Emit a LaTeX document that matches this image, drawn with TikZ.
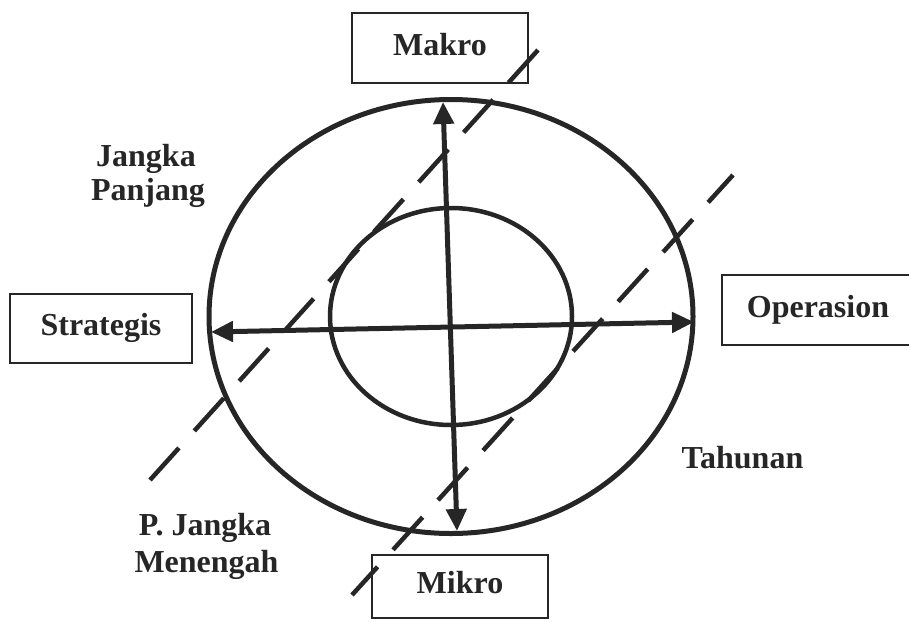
\documentclass[tikz,border=0pt]{standalone}
\usepackage{fontspec}
\setmainfont{Liberation Serif}
\usetikzlibrary{arrows.meta,shapes.geometric}
\definecolor{ink}{HTML}{262626}
\begin{document}
\begin{tikzpicture}[x=1pt,y=-1pt,
  lbl/.style={font=\fontsize{32}{36}\selectfont\bfseries, text=ink, inner sep=0pt, anchor=base},
  labelbox/.style={draw=ink, line width=2.2pt, inner sep=0pt, font=\fontsize{32}{36}\selectfont\bfseries, text=ink, text height=22pt, text depth=8pt},
  ring/.style={draw=ink, ellipse, inner sep=0pt, outer sep=0pt},
  axisarrow/.style={draw=ink, line width=5pt, {Triangle[length=22pt,width=20pt]}-{Triangle[length=22pt,width=20pt]}},
  dashline/.style={draw=ink, line width=4.5pt, dash pattern=on 44pt off 23pt}
]
\useasboundingbox (0,0) rectangle (909,621);
\fill[white] (0,0) rectangle (909,621);

% ellipses
\node[ring, line width=5pt, minimum width=484pt, minimum height=434pt] (outer) at (451,316.5) {};
\node[ring, line width=4.5pt, minimum width=242pt, minimum height=217pt] (inner) at (451,316.5) {};

% dashed lines
\coordinate (d1a) at (538,50);
\coordinate (d1b) at (150,480);
\coordinate (d2a) at (733,175);
\coordinate (d2b) at (352,595);
\draw[dashline] (d1a) -- (d1b);
\draw[dashline, dash phase=7pt] (d2a) -- (d2b);

% arrows
\coordinate (vtop) at (443,102);
\coordinate (vbot) at (457,531);
\coordinate (hleft) at (211,332);
\coordinate (hright) at (694,322);
\draw[axisarrow] (vtop) -- (vbot);
\draw[axisarrow] (hleft) -- (hright);

% boxes
\node[labelbox, minimum width=176pt, minimum height=70pt] (makro) at (440,48) {Makro};
\node[labelbox, minimum width=182pt, minimum height=69pt] (strategis) at (101,328.5) {Strategis};
\node[labelbox, minimum width=192pt, minimum height=70pt] (operasion) at (818,310) {Operasion};
\node[labelbox, minimum width=176pt, minimum height=63pt] (mikro) at (460,586.5) {Mikro};

% free labels
\node[lbl] (jp1) at (146,166) {Jangka};
\node[lbl] (jp2) at (148,200) {Panjang};
\node[lbl] (pjm1) at (205,535) {P. Jangka};
\node[lbl] (pjm2) at (206.5,572) {Menengah};
\node[lbl] (tahunan) at (742.5,468) {Tahunan};
\end{tikzpicture}
\end{document}
